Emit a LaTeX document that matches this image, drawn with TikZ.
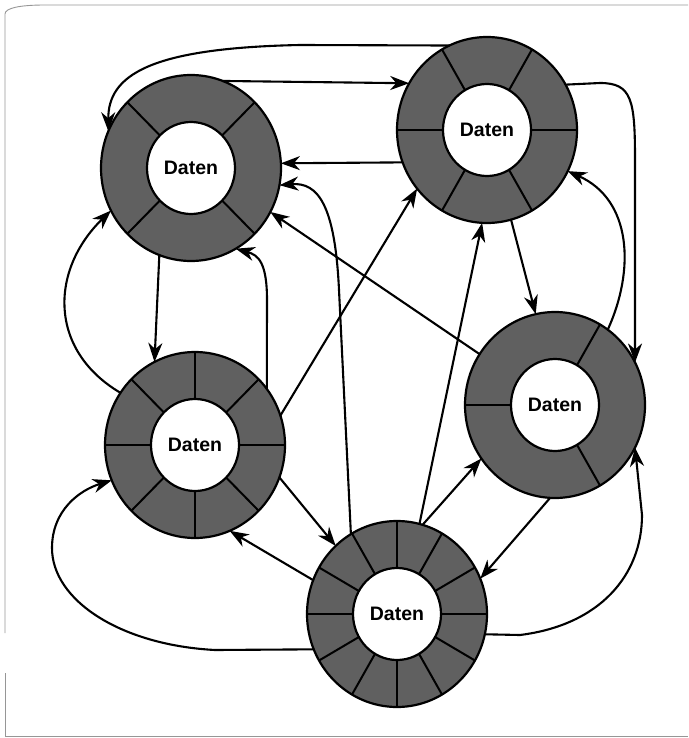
\documentclass[tikz,border=0pt]{standalone}
\usepackage{fontspec}
\setmainfont{Liberation Sans}
\usetikzlibrary{shapes.geometric,arrows.meta}
\definecolor{ringgray}{RGB}{96,96,96}
\definecolor{framegray}{RGB}{150,150,150}
\tikzset{
  ring/.style={ellipse, minimum width=180pt, minimum height=186pt, inner sep=0pt, outer sep=0pt, draw=black, fill=ringgray, line width=2.2pt},
  hub/.style={ellipse, minimum width=88pt, minimum height=92pt, inner sep=0pt, outer sep=0pt, draw=black, fill=white, line width=2.2pt, font=\fontsize{19.5}{22}\selectfont\bfseries},
  divider/.style={line width=2pt, black},
  conn/.style={line width=2.1pt, line cap=round, line join=round, -{Stealth[length=19pt,width=14pt,inset=6pt]}},
  framestyle/.style={draw=framegray, line width=0.9pt}
}
\newcommand{\DatenRing}[3]{%
  \node[ring] (#1) at (#2) {};
  \foreach \t in {#3} {\draw[divider, shift={(#1.center)}] ({44*cos(\t)},{46*sin(\t)}) -- ({90*cos(\t)},{93*sin(\t)});}
  \node[hub] (#1h) at (#1.center) {Daten};
}
\begin{document}
\begin{tikzpicture}[x=1pt,y=1pt]
\useasboundingbox (0,0) rectangle (688,-738);
% frame
\draw[framestyle] (5,-633) -- (5,-14) .. controls (5,-8) and (20,-5) .. (45,-5) -- (688,-5);
\draw[framestyle] (5,-673) -- (5,-736) -- (688,-736);
% rings
\DatenRing{A}{191,-168}{45,135,225,315}
\DatenRing{B}{487,-130}{0,60,120,180,240,300}
\DatenRing{C}{195,-445}{0,45,90,135,180,225,270,315}
\DatenRing{D}{555,-405}{60,180,300}
\DatenRing{E}{397,-614}{0,30,60,90,120,150,180,210,240,270,300,330}
% connectors
\draw[conn] (B.114) -- (300,-45) .. controls (150,-48) and (108,-75) .. (A.156);
\draw[conn] (A.70) -- (B.149);
\draw[conn] (B.201) -- (A.3);
\draw[conn] (B.30) -- (600,-83) .. controls (632,-83) and (635,-100) .. (635,-160) -- (D.28);
\draw[conn] (D.55) .. controls (635,-270) and (632,-200) .. (B.333);
\draw[conn] (B.285) -- (D.102);
\draw[conn] (E.76) -- (B.267);
\draw[conn] (C.19) -- (B.220);
\draw[conn] (D.146) -- (A.331);
\draw[conn] (E.120) -- (339,-290) .. controls (335,-205) and (318,-182) .. (A.349);
\draw[conn] (C.38) -- (267,-300) .. controls (267,-262) and (258,-255) .. (A.299);
\draw[conn] (A.250) -- (C.116);
\draw[conn] (C.145) .. controls (48,-350) and (50,-270) .. (A.208);
\draw[conn] (E.203) -- (215,-650) .. controls (120,-645) and (52,-600) .. (52,-548) .. controls (52,-510) and (80,-490) .. (C.203);
\draw[conn] (E.158) -- (C.292);
\draw[conn] (C.339) -- (E.132);
\draw[conn] (D.267) -- (E.23);
\draw[conn] (E.74) -- (D.216);
\draw[conn] (E.347) -- (520,-635) .. controls (600,-625) and (642,-575) .. (642,-515) -- (D.332);
\end{tikzpicture}
\end{document}
